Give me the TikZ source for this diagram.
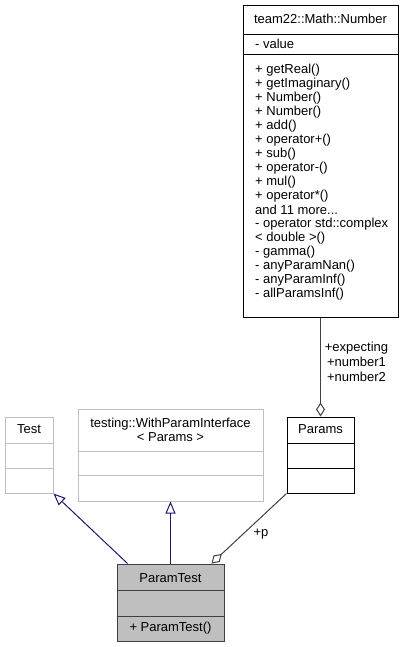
\documentclass[tikz,border=0pt]{standalone}
\usepackage{fontspec}
\setmainfont{Liberation Sans}
\usetikzlibrary{arrows.meta}
\definecolor{edgeblue}{HTML}{191970}
\definecolor{edgegray}{HTML}{404040}
\definecolor{boxgray}{HTML}{BFBFBF}
\begin{document}
\begin{tikzpicture}[x=1pt,y=-1pt,
  every node/.style={font=\fontsize{13}{14}\selectfont, inner sep=0pt},
  box/.style={draw, rectangle, line width=1pt, inner sep=0pt},
  lbl/.style={anchor=center},
  mem/.style={anchor=west},
  inh/.style={draw=edgeblue, line width=1pt, -{Triangle[open, length=12pt, width=10pt]}},
  agg/.style={draw=edgegray, line width=1pt, {Diamond[open, length=14pt, width=9pt]}-}]
\useasboundingbox (0,0) rectangle (405,647);
% boxes
\node[box, draw=black, minimum width=155pt, minimum height=311pt] (num) at (320.5,161.5) {};
\node[box, draw=boxgray, minimum width=48pt, minimum height=76pt] (test) at (29,455) {};
\node[box, draw=boxgray, minimum width=185pt, minimum height=92pt] (wpi) at (170.5,455) {};
\node[box, draw=black, minimum width=67pt, minimum height=76pt] (params) at (320.5,455) {};
\node[box, draw=edgegray, fill=boxgray, minimum width=107pt, minimum height=77pt] (pt) at (170.5,602.5) {};
% dividers
\draw[line width=1pt] (num.west |- 0,35) -- (num.east |- 0,35);
\draw[line width=1pt] (num.west |- 0,55) -- (num.east |- 0,55);
\draw[line width=1pt, boxgray] (test.west |- 0,443) -- (test.east |- 0,443);
\draw[line width=1pt, boxgray] (test.west |- 0,468) -- (test.east |- 0,468);
\draw[line width=1pt, boxgray] (wpi.west |- 0,451) -- (wpi.east |- 0,451);
\draw[line width=1pt, boxgray] (wpi.west |- 0,475) -- (wpi.east |- 0,475);
\draw[line width=1pt] (params.west |- 0,443) -- (params.east |- 0,443);
\draw[line width=1pt] (params.west |- 0,468) -- (params.east |- 0,468);
\draw[line width=1pt, edgegray] (pt.west |- 0,590) -- (pt.east |- 0,590);
\draw[line width=1pt, edgegray] (pt.west |- 0,616) -- (pt.east |- 0,616);
% texts
\node[lbl] (numt) at (320.5,19) {team22::Math::Number};
\node[mem] (numa) at (255,44) {- value};
\node[mem] (m0) at (255,70) {+ getReal()};
\node[mem] (m1) at (255,84) {+ getImaginary()};
\node[mem] (m2) at (255,98) {+ Number()};
\node[mem] (m3) at (255,112) {+ Number()};
\node[mem] (m4) at (255,126) {+ add()};
\node[mem] (m5) at (255,140) {+ operator+()};
\node[mem] (m6) at (255,154) {+ sub()};
\node[mem] (m7) at (255,168) {+ operator-()};
\node[mem] (m8) at (255,182) {+ mul()};
\node[mem] (m9) at (255,196) {+ operator*()};
\node[mem] (m10) at (255,210) {and 11 more...};
\node[mem] (m11) at (255,224) {- operator std::complex};
\node[mem] (m12) at (255,238) {< double >()};
\node[mem] (m13) at (255,252) {- gamma()};
\node[mem] (m14) at (255,266) {- anyParamNan()};
\node[mem] (m15) at (255,280) {- anyParamInf()};
\node[mem] (m16) at (255,294) {- allParamsInf()};
\node[lbl] (testt) at (29,429) {Test};
\node[lbl, align=center] (wpit) at (170.5,430) {testing::WithParamInterface\\< Params >};
\node[lbl] (paramst) at (320.5,429) {Params};
\node[lbl] (ptt) at (170.5,578) {ParamTest};
\node[lbl] (ptm) at (170.5,628) {+ ParamTest()};
% edges
\draw[inh] ([xshift=11pt]pt.north west) -- (test.south east);
\draw[inh] (pt.north) -- (wpi.south);
\draw[agg] ([xshift=-13pt]pt.north east) -- (params.south west) node[pos=0.5, anchor=center, xshift=12pt, yshift=-6pt] (plbl) {+p};
\draw[agg] (params.north) -- (num.south) node[pos=0.55, anchor=center, align=center, xshift=36pt, font=\fontsize{13}{15}\selectfont] (nlbl) {+expecting\\+number1\\+number2};
\end{tikzpicture}
\end{document}
